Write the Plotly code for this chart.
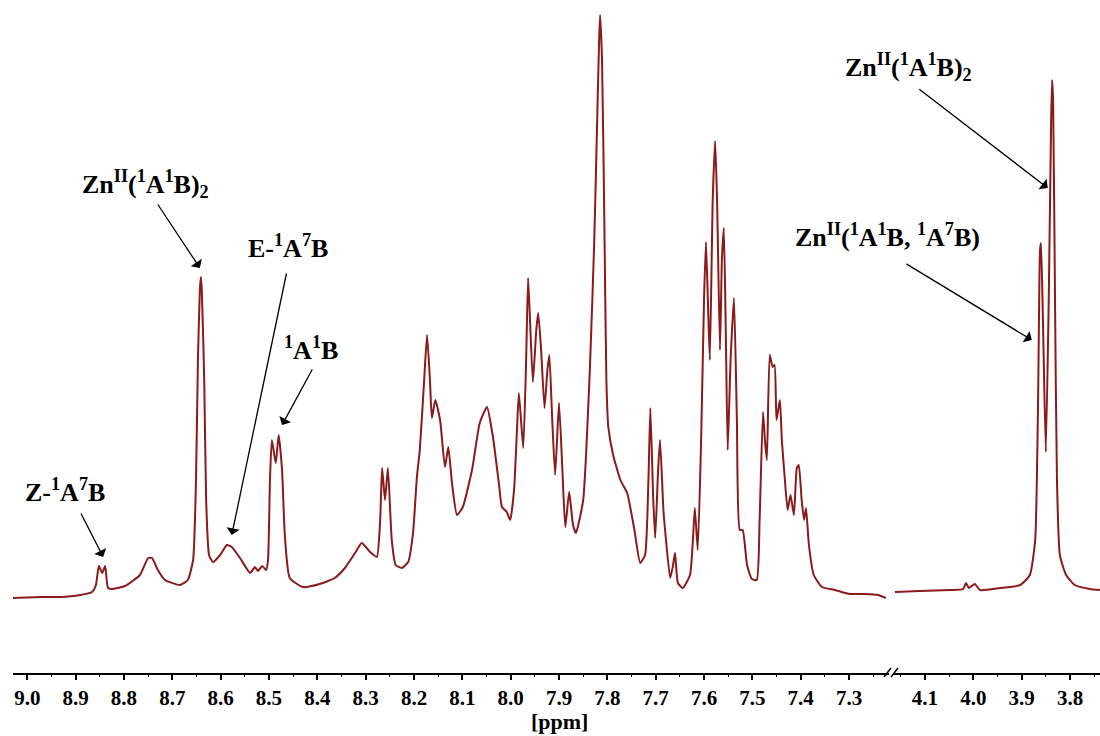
import plotly.graph_objects as go

# 1H NMR trace, aromatic window (ppm, intensity in arbitrary units)
ppm_aromatic = [
    9.0296, 8.974, 8.932, 8.891, 8.866, 8.858, 8.852, 8.845, 8.839, 8.833,
    8.823, 8.798, 8.767, 8.750, 8.742, 8.730, 8.715, 8.684, 8.668, 8.657,
    8.651, 8.647, 8.643, 8.641, 8.639, 8.634, 8.630, 8.624, 8.616, 8.601,
    8.587, 8.577, 8.560, 8.539, 8.529, 8.523, 8.514, 8.506, 8.502, 8.498,
    8.494, 8.486, 8.480, 8.473, 8.467, 8.457, 8.430, 8.395, 8.364, 8.343,
    8.322, 8.308, 8.291, 8.277, 8.270, 8.266, 8.260, 8.254, 8.246, 8.238,
    8.225, 8.212, 8.202, 8.194, 8.188, 8.179, 8.173, 8.167, 8.163, 8.156,
    8.146, 8.136, 8.129, 8.121, 8.111, 8.099, 8.080, 8.064, 8.049, 8.039,
    8.033, 8.024, 8.018, 8.008, 8.001, 7.993, 7.987, 7.983, 7.974, 7.968,
    7.964, 7.960, 7.954, 7.947, 7.943, 7.937, 7.930, 7.924, 7.920, 7.914,
    7.908, 7.900, 7.893, 7.887, 7.879, 7.871, 7.865, 7.850, 7.836, 7.827,
    7.821, 7.817, 7.815, 7.811, 7.806, 7.802, 7.798, 7.788, 7.773, 7.759,
    7.744, 7.732, 7.722, 7.715, 7.711, 7.705, 7.701, 7.695, 7.691, 7.684,
    7.680, 7.670, 7.664, 7.660, 7.654, 7.644, 7.629, 7.623, 7.619, 7.613,
    7.606, 7.600, 7.596, 7.592, 7.588, 7.582, 7.577, 7.573, 7.567, 7.563,
    7.559, 7.555, 7.551, 7.545, 7.538, 7.532, 7.526, 7.520, 7.511, 7.501,
    7.491, 7.485, 7.478, 7.474, 7.470, 7.464, 7.458, 7.454, 7.450, 7.443,
    7.439, 7.433, 7.427, 7.421, 7.414, 7.408, 7.404, 7.398, 7.393, 7.389,
    7.383, 7.373, 7.356, 7.329, 7.298, 7.267, 7.240, 7.224,
]
int_aromatic = [
    2, 3, 3, 5, 8, 15, 34, 27, 34, 12,
    11, 14, 25, 42, 42, 30, 20, 15, 20, 40,
    120, 240, 310, 323, 310, 220, 100, 45, 38, 45,
    55, 53, 42, 27, 33, 29, 34, 30, 40, 120,
    160, 137, 165, 130, 63, 22, 13, 16, 22, 32,
    47, 57, 48, 43, 80, 132, 100, 132, 60, 35,
    32, 38, 67, 123, 150, 220, 265, 220, 182, 200,
    180, 133, 153, 115, 85, 93, 130, 177, 193, 170,
    150, 115, 93, 88, 80, 110, 170, 207, 152, 240,
    322, 280, 218, 270, 287, 250, 192, 230, 245, 180,
    125, 197, 130, 73, 108, 75, 67, 100, 233, 360,
    480, 560, 585, 540, 370, 220, 173, 145, 120, 107,
    70, 37, 45, 120, 192, 100, 62, 130, 160, 90,
    67, 22, 35, 47, 17, 12, 25, 60, 92, 50,
    160, 300, 358, 300, 240, 400, 459, 400, 250, 340,
    372, 270, 150, 240, 302, 180, 70, 70, 35, 21,
    20, 80, 188, 160, 140, 245, 233, 235, 180, 200,
    160, 122, 90, 105, 85, 132, 135, 100, 80, 92,
    55, 25, 13, 10, 6, 6, 5, 2,
]

# Methoxy window
ppm_methoxy = [
    4.162, 4.110, 4.048, 4.021, 4.015, 4.009, 3.997, 3.986, 3.945, 3.903,
    3.883, 3.872, 3.866, 3.862, 3.860, 3.856, 3.850, 3.844, 3.839, 3.837,
    3.835, 3.831, 3.827, 3.821, 3.808, 3.790, 3.759, 3.738,
]
int_methoxy = [
    8, 9, 10, 11, 17, 12, 16, 10, 12, 15,
    25, 60, 200, 350, 357, 280, 148, 300, 480, 520,
    500, 300, 120, 45, 25, 15, 11, 10,
]

# Peak assignments: label, axis, (ppm, intensity) of arrow tip, tail offset px,
# label centre in page pixels
labels = [
    "Zn<sup>II</sup>(<sup>1</sup>A<sup>1</sup>B)<sub>2</sub>",
    "E-<sup>1</sup>A<sup>7</sup>B",
    "<sup>1</sup>A<sup>1</sup>B",
    "Z-<sup>1</sup>A<sup>7</sup>B",
    "Zn<sup>II</sup>(<sup>1</sup>A<sup>1</sup>B)<sub>2</sub>",
    "Zn<sup>II</sup>(<sup>1</sup>A<sup>1</sup>B, <sup>1</sup>A<sup>7</sup>B)",
]
label_axis = ["x", "x", "x", "x", "x2", "x2"]
tip_ppm = [8.643, 8.577, 8.473, 8.843, 3.846, 3.879]
tip_int = [332, 65, 175, 43, 412, 260]
tail_dx = [-43, 55, 31, -23, -130, -127]
tail_dy = [-65, -263, -57, -45, -100, -77]
label_px = [145, 288, 311, 65, 908, 887]
label_py = [184, 246, 348, 490, 67, 235]

W, H = 1100, 736
trace_color = "#8b1a1a"
serif = "Liberation Serif"

fig = go.Figure()
fig.add_trace(go.Scatter(x=ppm_aromatic, y=int_aromatic, xaxis="x", yaxis="y",
                         mode="lines",
                         line=dict(color=trace_color, width=2, shape="spline", smoothing=0.5),
                         hoverinfo="skip", showlegend=False))
fig.add_trace(go.Scatter(x=ppm_methoxy, y=int_methoxy, xaxis="x2", yaxis="y",
                         mode="lines",
                         line=dict(color=trace_color, width=2, shape="spline", smoothing=0.5),
                         hoverinfo="skip", showlegend=False))

axis_y = 672.5  # page row of the ppm axis line
common_x = dict(
    showline=True, linecolor="black", linewidth=1.5,
    ticks="outside", ticklen=6, tickwidth=1.5, tickcolor="black",
    dtick=0.1, tick0=0, tickformat=".1f",
    minor=dict(dtick=0.05, ticks="outside", ticklen=3, tickwidth=1.2, tickcolor="black"),
    showgrid=False, zeroline=False, fixedrange=True,
    tickfont=dict(family=serif, size=21, color="black", weight="bold"),
    ticklabelstandoff=0,
)

fig.update_layout(
    width=W, height=H,
    margin=dict(l=0, r=0, t=0, b=0),
    paper_bgcolor="white", plot_bgcolor="white",
    xaxis=dict(domain=[13 / W, 889 / W], range=[9.0296, 7.2173], anchor="y", **common_x),
    xaxis2=dict(domain=[893 / W, 1.0], range=[4.166, 3.738], anchor="y", **common_x),
    yaxis=dict(domain=[(H - axis_y) / H, 1.0], range=[-(axis_y - 600), 600],
               visible=False, fixedrange=True),
)

annotations = []
for i, txt in enumerate(labels):
    annotations.append(dict(
        text=txt, xref="paper", yref="paper",
        x=label_px[i] / W, y=1 - label_py[i] / H,
        showarrow=False, xanchor="center", yanchor="middle",
        font=dict(family=serif, size=26, color="black", weight="bold"),
    ))
    annotations.append(dict(
        text="", xref=label_axis[i], yref="y",
        x=tip_ppm[i], y=tip_int[i],
        ax=tail_dx[i], ay=tail_dy[i], axref="pixel", ayref="pixel",
        showarrow=True, arrowhead=1, arrowsize=1.7, arrowwidth=1.3,
        arrowcolor="black", standoff=0,
    ))
annotations.append(dict(
    text="[ppm]", xref="paper", yref="paper", x=560 / W, y=1 - 721 / H,
    showarrow=False, xanchor="center", yanchor="middle",
    font=dict(family=serif, size=22, color="black", weight="bold"),
))
fig.update_layout(annotations=annotations)

# axis break marks
for x0 in (884, 891):
    fig.add_shape(type="line", xref="paper", yref="paper",
                  x0=x0 / W, y0=1 - (axis_y + 4.5) / H,
                  x1=(x0 + 7) / W, y1=1 - (axis_y - 4.5) / H,
                  line=dict(color="black", width=1.5))

fig.write_html("out.html")
